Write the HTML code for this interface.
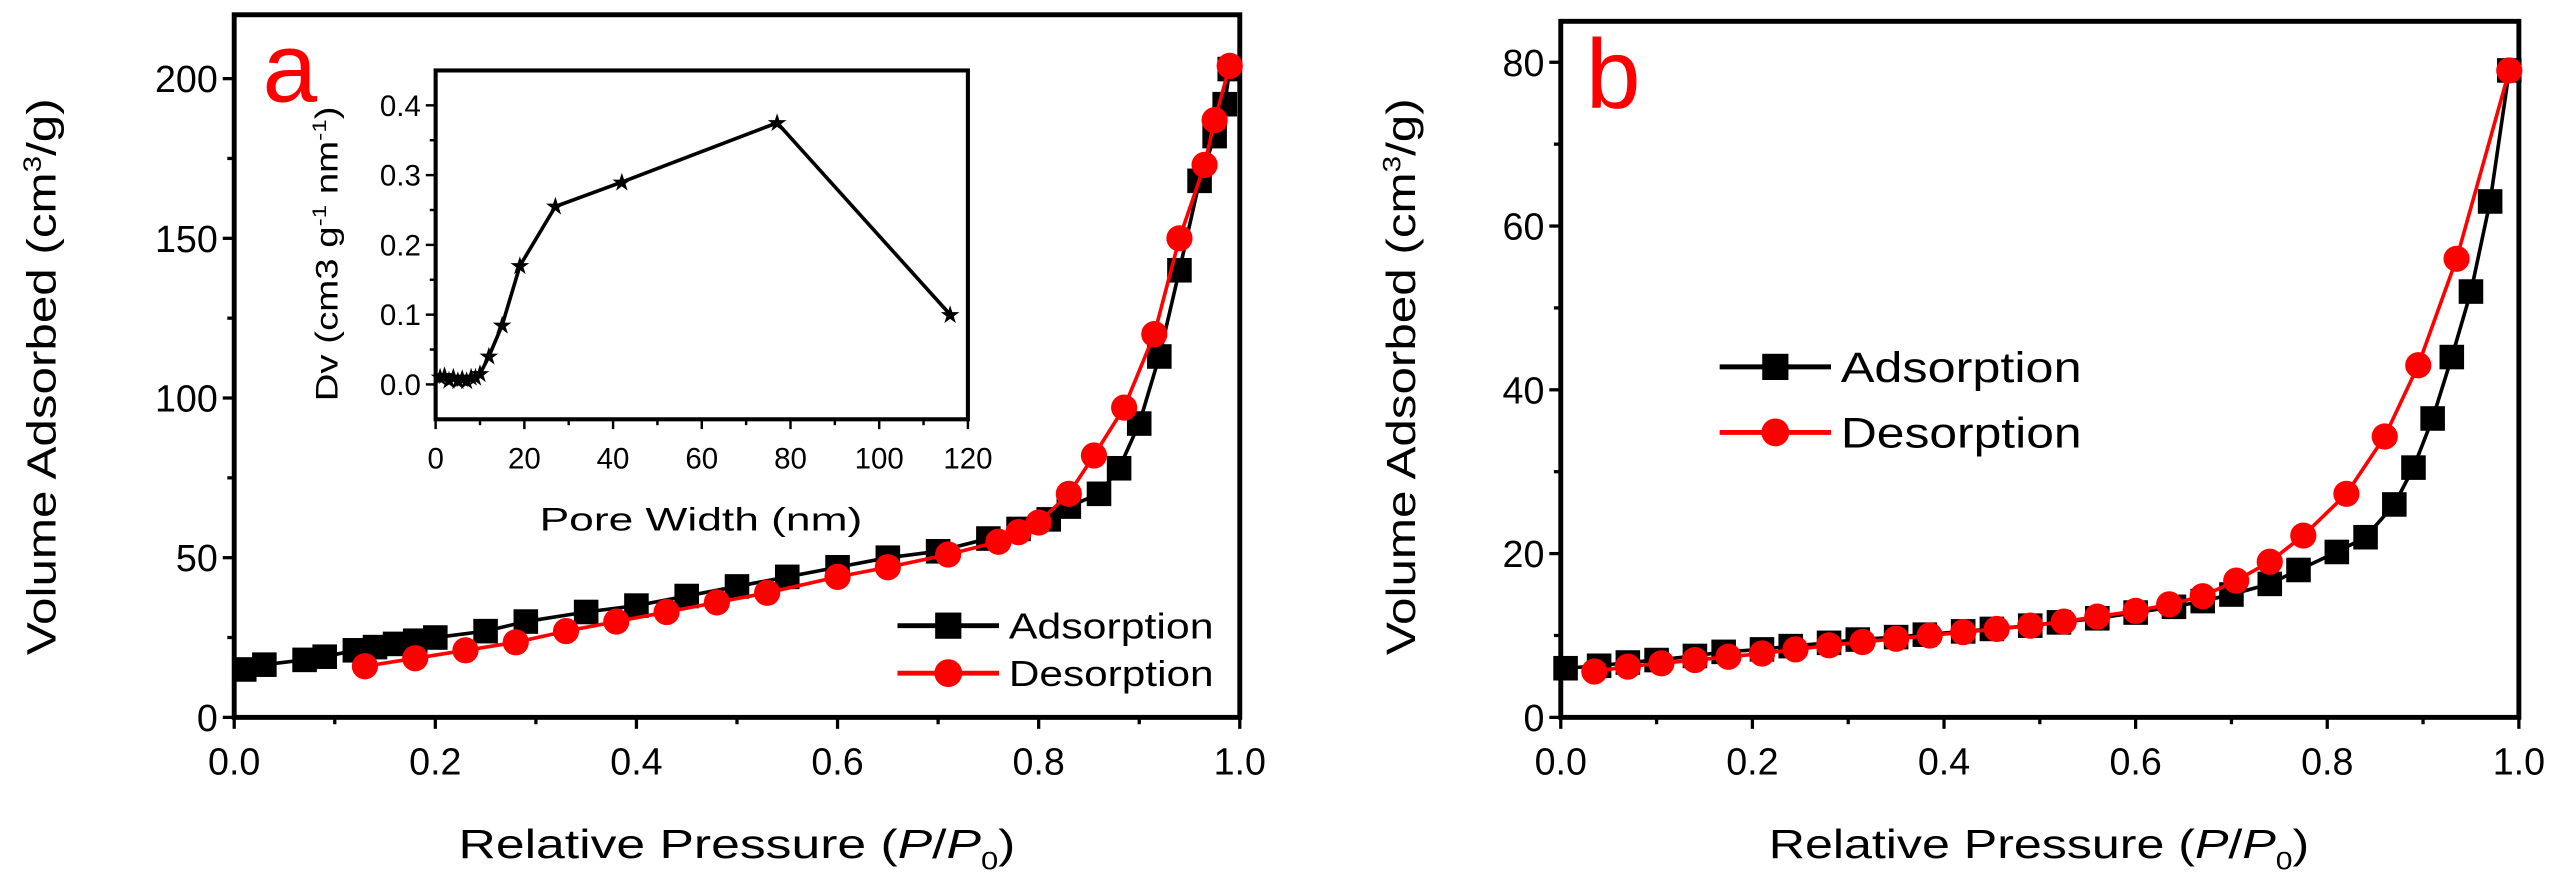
<!DOCTYPE html>
<html><head><meta charset="utf-8"><style>
html,body{margin:0;padding:0;background:#fff;}
svg{display:block;font-family:"Liberation Sans",Arial,sans-serif;}
</style></head><body>
<svg id="fig" width="2568" height="891" viewBox="0 0 1568 544"></svg>
<script>
// ---- data ----
const aAdsX=[0.01,0.03,0.07,0.09,0.12,0.14,0.16,0.18,0.2,0.25,0.29,0.35,0.4,0.45,0.5,0.55,0.6,0.65,0.7,0.75,0.78,0.81,0.83,0.86,0.88,0.9,0.92,0.94,0.96,0.975,0.985,0.99];
const aAdsY=[15,16.5,18,19,21,22,23,24,25,27,30,33,35,38,41,44,47,50,52,56,59,62,66,70,78,92,113,140,168,182,192,203];
const aDesX=[0.13,0.18,0.23,0.28,0.33,0.38,0.43,0.48,0.53,0.6,0.65,0.71,0.76,0.78,0.8,0.83,0.855,0.885,0.915,0.94,0.965,0.975,0.99];
const aDesY=[16,18.5,21,23.5,27,30,33,36,39,44,47,51,55,58,61,70,82,97,120,150,173,187,204];
const insetX=[1,2,3,4,5,6,7,8,9,10,12,15,19,27,42,77,116];
const insetY=[0.01,0.012,0.006,0.01,0.005,0.008,0.005,0.01,0.01,0.015,0.04,0.085,0.17,0.255,0.29,0.375,0.1];
const bAdsX=[0.005,0.04,0.07,0.1,0.14,0.17,0.21,0.24,0.28,0.31,0.35,0.38,0.42,0.45,0.49,0.52,0.56,0.6,0.64,0.67,0.7,0.74,0.77,0.81,0.84,0.87,0.89,0.91,0.93,0.95,0.97,0.99];
const bAdsY=[6,6.3,6.7,7,7.5,8,8.3,8.7,9.1,9.5,9.8,10.1,10.5,10.8,11.2,11.6,12.1,12.8,13.5,14.2,15,16.3,18,20.2,22,26,30.5,36.5,44,52,63,79];
const bDesX=[0.035,0.07,0.105,0.14,0.175,0.21,0.245,0.28,0.315,0.35,0.385,0.42,0.455,0.49,0.525,0.56,0.6,0.635,0.67,0.705,0.74,0.775,0.82,0.86,0.895,0.935,0.99];
const bDesY=[5.6,6.2,6.6,7,7.4,7.8,8.3,8.8,9.2,9.6,10,10.4,10.8,11.2,11.7,12.3,13,13.8,14.8,16.7,19,22.2,27.3,34.3,43,56,79];
const xTicks=[0,0.2,0.4,0.6,0.8,1.0];
const xTickLabels=["0.0","0.2","0.4","0.6","0.8","1.0"];
const aYTicks=[0,50,100,150,200];
const bYTicks=[0,20,40,60,80];
const inXTicks=[0,20,40,60,80,100,120];
const inYTicks=[0,0.1,0.2,0.3,0.4];
const inYTickLabels=["0.0","0.1","0.2","0.3","0.4"];

const NS="http://www.w3.org/2000/svg";
const svg=document.getElementById('fig');
function mk(tag,attrs,parent,text){const e=document.createElementNS(NS,tag);for(const k in attrs)e.setAttribute(k,attrs[k]);if(text!==undefined)e.textContent=text;(parent||svg).appendChild(e);return e;}
function scale(d0,d1,r0,r1){return v=>r0+(v-d0)/(d1-d0)*(r1-r0);}

function axesPanel(p){
  const g=mk('g',{});
  
  
  const X=scale(p.xd[0],p.xd[1],p.L,p.R), Y=scale(p.yd[0],p.yd[1],p.B,p.T);
  const fr=mk('rect',{x:p.L,y:p.T,width:p.R-p.L,height:p.B-p.T,fill:'none',stroke:'#000','stroke-width':p.fw},g);
  
  
  p.xt.forEach((v,i)=>{
    const x=X(v);
    mk('line',{x1:x,x2:x,y1:p.B,y2:p.B+p.tl,stroke:'#000','stroke-width':p.tw},g);
    const t=mk('text',{x:x,y:p.B+p.xly,'text-anchor':'middle','font-size':p.fs},g,p.xtl[i]);
    
    
    if(i<p.xt.length-1){const xm=X((v+p.xt[i+1])/2);mk('line',{x1:xm,x2:xm,y1:p.B,y2:p.B+p.tl*0.6,stroke:'#000','stroke-width':p.tw},g);}
  });
  p.yt.forEach((v,i)=>{
    const y=Y(v);
    mk('line',{x1:p.L,x2:p.L-p.tl,y1:y,y2:y,stroke:'#000','stroke-width':p.tw},g);
    const t=mk('text',{x:p.L-p.tl-3,y:y+p.fs*0.36,'text-anchor':'end','font-size':p.fs},g,p.ytl[i]);
    
    
    if(i<p.yt.length-1){const ym=Y((v+p.yt[i+1])/2);mk('line',{x1:p.L,x2:p.L-p.tl*0.6,y1:ym,y2:ym,stroke:'#000','stroke-width':p.tw},g);}
  });
  return {g,X,Y};
}
function series(g,X,Y,xs,ys,color,marker,name,ms){
  const sg=mk('g',{},g);
  
  
  mk('polyline',{points:xs.map((x,i)=>X(x)+','+Y(ys[i])).join(' '),fill:'none',stroke:color,'stroke-width':2.2},sg);
  xs.forEach((x,i)=>{
    const cx=X(x),cy=Y(ys[i]);let m;
    if(marker==='sq')m=mk('rect',{x:cx-ms/2,y:cy-ms/2,width:ms,height:ms,fill:color},sg);
    else if(marker==='ci')m=mk('circle',{cx:cx,cy:cy,r:ms/2,fill:color},sg);
    else m=mk('text',{x:cx,y:cy+5,'text-anchor':'middle','font-size':15,fill:color},sg,'★');
    
    
  });
}
function legend(x,y,dy,fs,lw,tl){
  [['Adsorption','#000','sq'],['Desorption','#f00','ci']].forEach((e,i)=>{
    const g=mk('g',{});
    
    
    const yy=y+i*dy;
    mk('line',{x1:x,x2:x+lw,y1:yy,y2:yy,stroke:e[1],'stroke-width':3},g);
    if(e[2]==='sq')mk('rect',{x:x+lw/2-8,y:yy-8,width:16,height:16,fill:e[1]},g);
    else mk('circle',{cx:x+lw/2,cy:yy,r:8.5,fill:e[1]},g);
    mk('text',{x:x+lw+6,y:yy+fs*0.36,'font-size':fs,textLength:tl,lengthAdjust:'spacingAndGlyphs'},g,e[0]);
  });
}
function label(x,y,txt,fs,rot,name,extra){
  const t=mk('text',Object.assign({x:x,y:y,'text-anchor':'middle','font-size':fs},rot?{transform:`rotate(-90 ${x} ${y})`}:{},extra||{}));
  t.innerHTML=txt;
  
  
  return t;
}
const LA={lengthAdjust:'spacingAndGlyphs'};

// Panel a
const A=axesPanel({name:'panel-a',L:143,R:757,T:9,B:438,xd:[0,1],yd:[0,220],xt:xTicks,xtl:xTickLabels,yt:aYTicks,ytl:aYTicks.map(String),fs:23,tl:7,tw:2,fw:3,xly:35});
series(A.g,A.X,A.Y,aAdsX,aAdsY,'#000','sq','adsorption-series-a',15);
series(A.g,A.X,A.Y,aDesX,aDesY,'#f00','ci','desorption-series-a',16);
legend(548,382,29,22,62,125);
label(177,62,'a',60,false,'panel-a-label',{fill:'#f00'});
label(34,230,'Volume Adsorbed (cm<tspan dy="-9" font-size="15">3</tspan><tspan dy="9">/g)</tspan>',25,true,'y-axis-title-a',Object.assign({textLength:340},LA));
label(450,524,'Relative Pressure (<tspan font-style="italic">P</tspan>/<tspan font-style="italic">P</tspan><tspan dy="7" font-size="15">0</tspan><tspan dy="-7">)</tspan>',25,false,'x-axis-title-a',Object.assign({textLength:340},LA));

// Inset
const I=axesPanel({name:'inset-pore-size',L:266,R:591,T:43,B:256,xd:[0,120],yd:[-0.05,0.45],xt:inXTicks,xtl:inXTicks.map(String),yt:inYTicks,ytl:inYTickLabels,fs:18,tl:6,tw:1.5,fw:2.5,xly:30});
series(I.g,I.X,I.Y,insetX,insetY,'#000','st','pore-distribution-series',0);
label(206,155,'Dv (cm3 g<tspan dy="-7" font-size="12">-1</tspan><tspan dy="7"> nm</tspan><tspan dy="-7" font-size="12">-1</tspan><tspan dy="7">)</tspan>',19,true,'inset-y-axis-title',Object.assign({textLength:180},LA));
label(428,324,'Pore Width (nm)',20,false,'inset-x-axis-title',Object.assign({textLength:197},LA));

// Panel b
const B=axesPanel({name:'panel-b',L:953,R:1538,T:13,B:438,xd:[0,1],yd:[0,85],xt:xTicks,xtl:xTickLabels,yt:bYTicks,ytl:bYTicks.map(String),fs:23,tl:7,tw:2,fw:3,xly:35});
series(B.g,B.X,B.Y,bAdsX,bAdsY,'#000','sq','adsorption-series-b',15);
series(B.g,B.X,B.Y,bDesX,bDesY,'#f00','ci','desorption-series-b',16);
legend(1050,224,40,26,68,147);
label(985,66,'b',60,false,'panel-b-label',{fill:'#f00'});
label(864,230,'Volume Adsorbed (cm<tspan dy="-9" font-size="15">3</tspan><tspan dy="9">/g)</tspan>',25,true,'y-axis-title-b',Object.assign({textLength:340},LA));
label(1245,524,'Relative Pressure (<tspan font-style="italic">P</tspan>/<tspan font-style="italic">P</tspan><tspan dy="7" font-size="15">0</tspan><tspan dy="-7">)</tspan>',25,false,'x-axis-title-b',Object.assign({textLength:330},LA));
</script>
</body></html>
